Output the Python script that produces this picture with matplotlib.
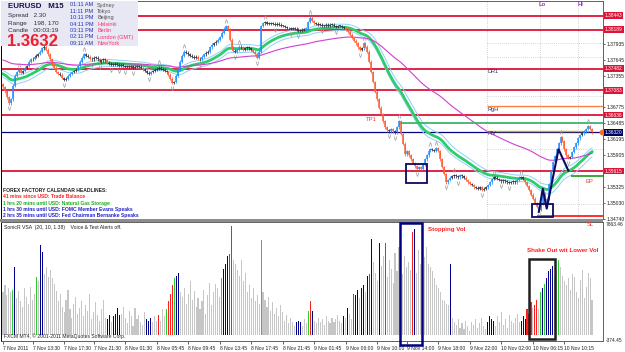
"""EURUSD M15 MetaTrader screenshot recreated with matplotlib."""
import matplotlib
matplotlib.use("Agg")
import matplotlib.pyplot as plt
from matplotlib.patches import Rectangle
import numpy as np

plt.rcParams["font.family"] = ["Liberation Sans", "DejaVu Sans"]

W, H = 625, 352          # output size in px
BAR0, STEP = 3.0, 1.97   # px of first bar, px per bar

# ── Price data (M15 closes) ─────────────────────────────────────────────────
closes = [
    1.3714, 1.3707, 1.3696, 1.3685, 1.3692, 1.3717, 1.3735, 1.3742, 1.3746, 1.3741, 1.3744, 1.3750, 1.3753, 1.3761, 1.3765,
    1.3766, 1.3770, 1.3772, 1.3775, 1.3779, 1.3785, 1.3788, 1.3783, 1.3774, 1.3765, 1.3755, 1.3750, 1.3742, 1.3739, 1.3737,
    1.3731, 1.3728, 1.3730, 1.3735, 1.3739, 1.3742, 1.3744, 1.3746, 1.3753, 1.3761, 1.3768, 1.3774, 1.3772, 1.3770, 1.3766,
    1.3765, 1.3768, 1.3768, 1.3765, 1.3761, 1.3763, 1.3765, 1.3763, 1.3759, 1.3757, 1.3755, 1.3755, 1.3757, 1.3755, 1.3753,
    1.3755, 1.3753, 1.3752, 1.3753, 1.3752, 1.3753, 1.3750, 1.3752, 1.3753, 1.3752, 1.3750, 1.3746, 1.3744, 1.3741, 1.3739,
    1.3742, 1.3744, 1.3746, 1.3748, 1.3750, 1.3748, 1.3746, 1.3744, 1.3742, 1.3737, 1.3730, 1.3722, 1.3724, 1.3735, 1.3746,
    1.3761, 1.3772, 1.3779, 1.3777, 1.3774, 1.3772, 1.3770, 1.3768, 1.3770, 1.3766, 1.3765, 1.3770, 1.3774, 1.3777, 1.3779,
    1.3787, 1.3792, 1.3794, 1.3797, 1.3801, 1.3806, 1.3814, 1.3821, 1.3826, 1.3819, 1.3801, 1.3787, 1.3781, 1.3779, 1.3783,
    1.3788, 1.3787, 1.3783, 1.3785, 1.3787, 1.3785, 1.3783, 1.3779, 1.3774, 1.3768, 1.3779, 1.3826, 1.3831, 1.3833, 1.3830,
    1.3830, 1.3831, 1.3830, 1.3828, 1.3830, 1.3828, 1.3826, 1.3826, 1.3824, 1.3822, 1.3822, 1.3821, 1.3822, 1.3821, 1.3819,
    1.3817, 1.3817, 1.3819, 1.3819, 1.3822, 1.3833, 1.3841, 1.3835, 1.3831, 1.3830, 1.3828, 1.3828, 1.3826, 1.3826, 1.3828,
    1.3826, 1.3828, 1.3828, 1.3826, 1.3824, 1.3826, 1.3826, 1.3824, 1.3822, 1.3819, 1.3815, 1.3810, 1.3804, 1.3799, 1.3794,
    1.3787, 1.3783, 1.3785, 1.3794, 1.3788, 1.3779, 1.3761, 1.3742, 1.3724, 1.3706, 1.3692, 1.3677, 1.3665, 1.3652, 1.3641,
    1.3636, 1.3634, 1.3638, 1.3634, 1.3632, 1.3641, 1.3652, 1.3629, 1.3611, 1.3592, 1.3598, 1.3590, 1.3583, 1.3576, 1.3570,
    1.3565, 1.3569, 1.3565, 1.3574, 1.3583, 1.3590, 1.3598, 1.3601, 1.3600, 1.3598, 1.3603, 1.3598, 1.3583, 1.3569, 1.3556,
    1.3541, 1.3545, 1.3549, 1.3552, 1.3554, 1.3552, 1.3550, 1.3554, 1.3552, 1.3549, 1.3545, 1.3541, 1.3538, 1.3536, 1.3532,
    1.3531, 1.3529, 1.3532, 1.3527, 1.3529, 1.3532, 1.3536, 1.3541, 1.3547, 1.3550, 1.3549, 1.3547, 1.3545, 1.3543, 1.3545,
    1.3543, 1.3541, 1.3540, 1.3541, 1.3543, 1.3541, 1.3545, 1.3549, 1.3550, 1.3547, 1.3541, 1.3534, 1.3527, 1.3518, 1.3511,
    1.3503, 1.3496, 1.3491, 1.3502, 1.3520, 1.3503, 1.3511, 1.3538, 1.3561, 1.3578, 1.3588, 1.3601, 1.3612, 1.3623, 1.3616,
    1.3601, 1.3590, 1.3585, 1.3587, 1.3596, 1.3605, 1.3612, 1.3621, 1.3627, 1.3630, 1.3634, 1.3638, 1.3643, 1.3638, 1.3632,
]
first_open = 1.3720
wick = 0.00025

# ── VSA volume (one value per bar) and bar colour codes ─────────────────────
volume = [
    3000, 3500, 2800, 3300, 3000, 3200, 4800, 2600, 3100, 2400, 2000, 3300, 2700, 2200, 3400, 2500, 2900, 4100, 3800, 6400,
    5900, 4300, 4800, 4100, 4600, 4000, 3600, 3100, 2400, 2900, 2000, 1600, 2500, 3200, 1800, 1200, 2200, 2700, 1500, 1900,
    2400, 1300, 2100, 1700, 2900, 1100, 1600, 2300, 1400, 1000, 1800, 2500, 1200, 1100, 1400, 900, 1300, 1500, 1900, 1400,
    1500, 2000, 1200, 800, 1700, 1300, 600, 1900, 1100, 1400, 900, 700, 1600, 1100, 1000, 1200, 900, 1300, 1000, 1400,
    1000, 1800, 1300, 1800, 2400, 2900, 3500, 4000, 4200, 4400, 3000, 2700, 3300, 2200, 2900, 3800, 2500, 3100, 2000, 2600,
    1800, 2400, 3200, 1500, 2800, 3700, 2100, 3000, 3600, 3300, 2700, 4000, 4700, 5000, 5600, 5700, 7700, 5300, 5000, 4600,
    4200, 5300, 3800, 4400, 3000, 3500, 2600, 3300, 2400, 2800, 2200, 6700, 3000, 2500, 2000, 2700, 1700, 2300, 1500, 1900,
    1300, 2100, 1600, 1000, 1400, 800, 1200, 900, 600, 900, 1000, 900, 600, 1100, 800, 1700, 2400, 1700, 1000, 800,
    1200, 900, 1100, 700, 1300, 1000, 800, 1200, 900, 1100, 1400, 1000, 800, 1300, 1200, 1900, 1500, 1100, 2900, 2800,
    3200, 2600, 3300, 3500, 3000, 4200, 4300, 6800, 5200, 4400, 3800, 6500, 4900, 5600, 6500, 4100, 5300, 4700, 3700, 5800,
    4500, 6200, 5100, 4300, 5600, 4800, 5200, 4600, 7300, 7500, 4400, 6000, 5000, 4700, 5500, 6200, 5000, 4800, 4500, 4000,
    3500, 3300, 3000, 2500, 2400, 2200, 2100, 5000, 1200, 900, 700, 1100, 500, 800, 400, 1000, 600, 300, 900, 700,
    1100, 500, 800, 1200, 600, 400, 900, 1300, 1100, 1000, 600, 1300, 900, 1600, 700, 1100, 500, 1400, 1000, 800,
    1200, 1500, 900, 1000, 1300, 1100, 1800, 1500, 2300, 1900, 2100, 2500, 1800, 3000, 3300, 3600, 4000, 4500, 4700, 4900,
    4000, 4500, 5300, 4800, 4200, 3800, 3500, 4000, 3200, 4300, 4100, 3000, 2600, 3900, 4600, 2600, 3400, 4400, 4000, 2500,
]
vol_codes = (
    "gggggln" "gggggggggg" "lgn"
    "n" "ggggggggggggggggggg"
    "ggggggggggggg" "nngnnnn"
    "ggggggggggggg" "nnn" "ggg" "r"
    "ggg" "l" "rrr" "l" "nn" "gggggggggg"
    "ggggggggggg" "l" "nnn" "rr" "ggg"
    "ggggggggggg" "l" "gggggggg"
    "ggggggggg" "nnn" "ggg" "l" "r" "n" "gg"
    "ggggggggggggg" "n" "g" "n" "gg" "r" "n"
    "ngnngnrngggnggrggggg"
    "gggggggg" "r" "n" "gggggggggg"
    "ggggggg" "n" "gggggggggggg"
    "gggggg" "nnnn" "gggggggggg"
    "ggg" "nnn" "rrr" "g" "rr" "g" "l" "n" "l" "nnnn"
    "gg" "l" "ggggggggggggggggg"
)
vol_palette = {"g": "#c6c6c6", "n": "#00008b", "r": "#ff1f1f", "l": "#2fcc2f"}
vol_top, vol_bottom = 7863.46, -374.45

# ── Levels, annotations ─────────────────────────────────────────────────────
red_levels = [1.38443, 1.38189, 1.37482, 1.37083, 1.36636, 1.35615]
red_labels = ["1.38443", "1.38189", "1.37482", "1.37083", "1.36636", "1.35615"]
rgh_level = 1.36793
green_level = 1.36485
piv_level = 1.36340
bid_level = 1.36320
ep_level = 1.35524
sl_level = 1.34798
dotted_levels = [1.37953, 1.37699, 1.36974, 1.36014, 1.35017]

price_ticks = [1.37935, 1.37645, 1.37355, 1.36775, 1.36485, 1.36195, 1.35905, 1.35325, 1.35030, 1.34740]

zigzag_bars = [272, 274, 276, 282, 287]
zigzag_prices = [1.3487, 1.3529, 1.3493, 1.3601, 1.3562]

time_ticks = [0, 15, 31, 46, 62, 78, 94, 110, 126, 142, 158, 174, 190, 205, 221, 237, 253, 269, 285]
time_labels = ["7 Nov 2011", "7 Nov 13:30", "7 Nov 17:30", "7 Nov 21:30", "8 Nov 01:30",
               "8 Nov 05:45", "8 Nov 09:45", "8 Nov 13:45", "8 Nov 17:45", "8 Nov 21:45",
               "9 Nov 01:45", "9 Nov 06:00", "9 Nov 10:00", "9 Nov 14:00", "9 Nov 18:00",
               "9 Nov 22:00", "10 Nov 02:00", "10 Nov 06:15", "10 Nov 10:15"]

clock_times = ["01:11 AM", "11:11 PM", "10:11 PM", "04:11 PM", "03:11 PM", "02:11 PM", "09:11 AM"]
clock_cities = ["Sydney", "Tokyo", "Beijing", "Helsinki", "Berlin", "London (GMT)", "NewYork"]

headlines = [
    ("41 mins since USD: Trade Balance", "#ff2020"),
    ("1 hrs 20 mins until USD: Natural Gas Storage", "#1faa1f"),
    ("1 hrs 30 mins until USD: FOMC Member Evans Speaks", "#2020cc"),
    ("2 hrs 35 mins until USD: Fed Chairman Bernanke Speaks", "#2020cc"),
]

green_seed, magenta_seed = 1.3740, 1.3765


# ──────────────────────────────────────────────────────────────────────────────
# helpers
# ──────────────────────────────────────────────────────────────────────────────
def rect(x0, y0, x1, y1):
    """Pixel box (top-left origin) -> figure fraction rect."""
    return [x0 / W, 1 - y1 / H, (x1 - x0) / W, (y1 - y0) / H]


def bx(px):
    """Pixel x -> bar coordinate."""
    return (px - BAR0) / STEP


def ftext(x, y, s, **kw):
    kw.setdefault("va", "center")
    kw.setdefault("ha", "left")
    fig.text(x / W, 1 - y / H, s, **kw)


def ema(values, span, seed):
    a = 2.0 / (span + 1)
    out, e = [], seed
    for v in values:
        e += a * (v - e)
        out.append(e)
    return np.array(out)


c = np.array(closes)
o = np.concatenate([[first_open], c[:-1]])
hi = np.maximum(o, c) + wick
lo = np.minimum(o, c) - wick
n = len(c)
x = np.arange(n)

fig = plt.figure(figsize=(W / 100, H / 100), dpi=100)
fig.patch.set_facecolor("white")

# ──────────────────────────────────────────────────────────────────────────────
# Main price panel
# ──────────────────────────────────────────────────────────────────────────────
ax = fig.add_axes(rect(1, 1, 603, 219))
p_of = lambda y: 1.37935 - (y - 44) * 0.00018125
ax.set_ylim(p_of(219), p_of(1))
ax.set_xlim(bx(1), bx(603))

# MAs
mid = ema(c, 30, green_seed)
ax.plot(x, ema(hi, 30, green_seed + 0.0004) + 0.0002, color="#8fd0fa", lw=0.7, zorder=2)
ax.plot(x, ema(lo, 30, green_seed - 0.0004) - 0.0002, color="#8fd0fa", lw=0.7, zorder=2)
ax.plot(x, mid, color="#2ecc6a", lw=2.0, zorder=2)
ax.plot(x, ema(c, 90, magenta_seed), color="#d040d0", lw=0.8, zorder=2)

# horizontal levels
for lvl in red_levels:
    ax.axhline(lvl, color="#dc1437", lw=1.3, zorder=1.5)
ax.hlines(rgh_level, bx(487), bx(603), color="#ff8040", lw=1.0)
ax.hlines(green_level, bx(399), bx(603), color="#3cb371", lw=1.3)
ax.axhline(bid_level, color="#000080", lw=0.9, zorder=1.5)
ax.hlines(piv_level, bx(487), bx(590), color="#d4b000", lw=1.0)
ax.hlines(ep_level, bx(571), bx(603), color="#2ca02c", lw=1.3)
ax.hlines(sl_level, bx(537), bx(603), color="#ff2020", lw=1.3)
for lvl in dotted_levels:
    ax.hlines(lvl, bx(487), bx(603), color="#b0b0b0", lw=0.5, linestyles=(0, (1, 2)), zorder=1)
for px in (487, 540, 578):
    ax.axvline(bx(px), color="#b0b0b0", lw=0.5, ls=(0, (1, 2)), zorder=1)

# candles
body = np.abs(c - o)
cols = np.where(body < 0.0003, "#2f3040", np.where(c > o, "#1e90ff", "#ff5c33"))
ax.vlines(x, lo, hi, colors=cols, lw=0.55, zorder=3)
ax.vlines(x, np.minimum(o, c), np.maximum(np.maximum(o, c), np.minimum(o, c) + 0.00008),
          colors=cols, lw=1.1, zorder=3)

# fractals
up = [i for i in range(2, n - 2) if hi[i] > max(hi[i - 2:i]) and hi[i] >= max(hi[i + 1:i + 3])]
dn = [i for i in range(2, n - 2) if lo[i] < min(lo[i - 2:i]) and lo[i] <= min(lo[i + 1:i + 3])]
ax.scatter(up, hi[up] + 0.0007, marker=r"$\wedge$", s=9, color="#9a9a9a", lw=0, zorder=4)
ax.scatter(dn, lo[dn] - 0.0007, marker=r"$\vee$", s=9, color="#9a9a9a", lw=0, zorder=4)

# zigzag + boxes
ax.plot(zigzag_bars, zigzag_prices, color="#0a0a60", lw=1.5, zorder=5)
for (b0, b1, p0, p1) in [(bx(406), bx(427), p_of(184), p_of(165)),
                         (bx(532), bx(553), p_of(218), p_of(205))]:
    ax.add_patch(Rectangle((b0, p0), b1 - b0, p1 - p0, fill=False, ec="#0a0a60", lw=1.3, zorder=6))
ax.scatter([bx(602)], [bid_level], s=10, color="#ff6a20", zorder=7, clip_on=False)

# axis styling
ax.set_xticks([])
ax.yaxis.tick_right()
ax.set_yticks(price_ticks)
ax.set_yticklabels([f"{t:.5f}" for t in price_ticks])
ax.tick_params(axis="y", labelsize=3.6, length=1.5, width=0.5, pad=0.8, colors="#202020")
for s in ax.spines.values():
    s.set_linewidth(0.7)
    s.set_color("#606060")
ax.spines["left"].set_color("black")

yt = ax.get_yaxis_transform()
for lvl, lab in zip(red_levels, red_labels):
    ax.text(1.003, lvl, lab, transform=yt, fontsize=3.5, color="white", va="center", ha="left",
            bbox=dict(boxstyle="square,pad=0.2", fc="#dc1437", ec="none"), zorder=8, clip_on=False)
ax.text(1.003, bid_level, "1.36320", transform=yt, fontsize=3.5, color="white", va="center", ha="left",
        bbox=dict(boxstyle="square,pad=0.2", fc="#000060", ec="none"), zorder=8, clip_on=False)

# labels on chart
ax.text(bx(488), p_of(72), "DR1", fontsize=4, color="#303060", va="center")
ax.text(bx(488), p_of(110), "RgH", fontsize=4, color="#303060", va="center")
ax.text(bx(488), p_of(134), "PIV", fontsize=4, color="#303060", va="center")
ax.text(bx(366), p_of(120), "TP1", fontsize=4.2, color="#ff3030", va="center")
ax.text(bx(586), p_of(183), "EP", fontsize=4.2, color="#ff3030", va="center")
ax.text(bx(539), p_of(5), "Lo", fontsize=4.2, color="#9932cc", va="center", fontweight="bold")
ax.text(bx(578), p_of(5), "Hi", fontsize=4.2, color="#9932cc", va="center", fontweight="bold")

# info box (top-left)
fig.add_artist(Rectangle((1 / W, 1 - 46 / H), 137 / W, 45 / H, transform=fig.transFigure,
                         fc="#e8e8f4", ec="none", zorder=0.5))
ftext(8, 6, "EURUSD   M15", fontsize=5.7, fontweight="bold", color="#101050")
ftext(8, 15, "Spread   2.30", fontsize=4.6, color="#303030")
ftext(8, 23, "Range    198, 170", fontsize=4.6, color="#303030")
ftext(8, 31, "Candle   00:03:19", fontsize=4.6, color="#303030")
ftext(7, 41, "1.3632", fontsize=12, fontweight="bold", color="#ee2030")
for k, (t, city) in enumerate(zip(clock_times, clock_cities)):
    yk = 5 + k * 6.4
    ftext(70, yk, t, fontsize=4, color="#2030b0")
    ftext(97, yk, city, fontsize=4, color="#505050" if k < 3 else "#ff3070")

# calendar headlines
ftext(3, 190, "FOREX FACTORY CALENDAR HEADLINES:", fontsize=3.6, fontweight="bold", color="#202020")
for k, (s, col) in enumerate(headlines):
    ftext(3, 197 + k * 6.2, s, fontsize=3.6, fontweight="bold", color=col)

# panel separator
fig.add_artist(Rectangle((0, 1 - 222 / H), 603 / W, 3 / H, transform=fig.transFigure,
                         fc="#8c8c8c", ec="none", zorder=9))
ftext(587, 224.5, "SL", fontsize=4.2, color="#ff3030", zorder=10)

# ──────────────────────────────────────────────────────────────────────────────
# Volume panel
# ──────────────────────────────────────────────────────────────────────────────
vx = fig.add_axes(rect(1, 222, 603, 341))
per_px = (vol_top - vol_bottom) / 116.0
vx.set_ylim(vol_bottom - 1 * per_px, vol_top + 2 * per_px)
vx.set_xlim(bx(1), bx(603))
vx.bar(x, volume, width=0.55, color=[vol_palette[k] for k in vol_codes], lw=0, zorder=2)

v_of = lambda y: vol_top + 2 * per_px - (y - 222) * per_px
for (x0, x1, y0, y1, col) in [(400.5, 422.5, 222.5, 345, "#000080"), (529, 555, 259, 339, "#202020")]:
    vx.add_patch(Rectangle((bx(x0), v_of(y1)), bx(x1) - bx(x0), v_of(y0) - v_of(y1),
                           fill=False, ec=col, lw=1.8, zorder=5, clip_on=False))
vx.text(bx(428), v_of(229), "Stopping Vol", fontsize=4.4, color="#ff2020", fontweight="bold", va="center")
vx.text(bx(527), v_of(250), "Shake Out wit Lower Vol", fontsize=4.4, color="#ff2020",
        fontweight="bold", va="center")

vx.set_yticks([])
vt = vx.get_yaxis_transform()
vx.text(1.005, vol_top, f"{vol_top:.2f}", transform=vt, fontsize=3.5, va="center", color="#202020")
vx.text(1.005, vol_bottom, f"{vol_bottom:.2f}", transform=vt, fontsize=3.5, va="center", color="#202020")
vx.set_xticks(time_ticks)
vx.set_xticklabels(time_labels, ha="left")
vx.tick_params(axis="x", labelsize=3.6, length=2, width=0.5, pad=1.5, colors="#202020")
for s in vx.spines.values():
    s.set_linewidth(0.7)
    s.set_color("#606060")
vx.spines["left"].set_color("black")

ftext(4, 227, "SonicR VSA  (20, 10, 1.38)    Voice & Text Alerts off.", fontsize=3.7, color="#202020")
ftext(4, 336, "FXCM MT4, \u00a9 2001-2011 MetaQuotes Software Corp.", fontsize=3.6, color="#202020", zorder=10)

fig.savefig("out.png", dpi=100)
